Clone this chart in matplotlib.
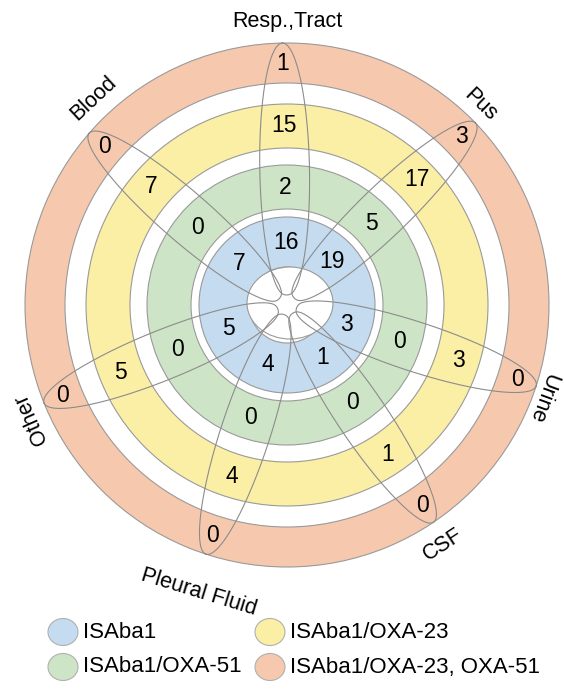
import numpy as np
import matplotlib.pyplot as plt
from matplotlib.patches import Wedge, Ellipse

plt.rcParams["font.family"] = ["Liberation Sans", "DejaVu Sans"]

# data
sources = ["Resp.,Tract", "Pus", "Urine", "CSF", "Pleural Fluid", "Other", "Blood"]
groups = ["ISAba1", "ISAba1/OXA-51", "ISAba1/OXA-23", "ISAba1/OXA-23, OXA-51"]
isaba1 = [16, 19, 3, 1, 4, 5, 7]
isaba1_oxa51 = [2, 5, 0, 0, 0, 0, 0]
isaba1_oxa23 = [15, 17, 3, 1, 4, 5, 7]
isaba1_both = [1, 3, 0, 0, 0, 0, 0]

# layout (pixel space)
cx, cy = 287, 305
petal_angles = [91, 44, -18, -56, -108, 202, 139]
label_angles = [90, 46, -20, -57, -107, 204, 133]
label_radius = [283, 278, 272, 286, 300, 280, 283]
rings = [(38, 88), (96, 140), (157, 201), (222, 262)]
ring_colors = ["#c4dbf0", "#cde5c6", "#fbeea5", "#f6c9ae"]
num_radius = [63, 118, 180, 242]
edge = "#9a9a9a"

fig = plt.figure(figsize=(5.64, 6.89), dpi=100)
ax = fig.add_axes([0, 0, 1, 1])
ax.set_xlim(0, 564)
ax.set_ylim(689, 0)
ax.axis("off")

for (r0, r1), col in zip(rings, ring_colors):
    ax.add_patch(Wedge((cx, cy), r1, 0, 360, width=r1 - r0, facecolor=col,
                       edgecolor=edge, lw=0.8))
ax.add_patch(Ellipse((cx + 3, cy - 2), 86, 72, facecolor="white", edgecolor=edge, lw=0.8))


def pt(r, ang):
    a = np.radians(ang)
    return cx + r * np.cos(a), cy - r * np.sin(a)


# petals: ellipse in (radius, arc offset) space
r_in, r_out, half_w = 10, 262, 25
phi = np.linspace(0, 2 * np.pi, 400)
rr = (r_in + r_out) / 2 + (r_out - r_in) / 2 * np.cos(phi)
vv = half_w * np.sin(phi)
for ang in petal_angles:
    a = np.radians(ang) + vv / rr
    ax.plot(cx + rr * np.cos(a), cy - rr * np.sin(a), color="#8c8c8c", lw=0.8)

for ring_vals, r in zip([isaba1, isaba1_oxa51, isaba1_oxa23, isaba1_both], num_radius):
    for v, ang in zip(ring_vals, petal_angles):
        x, y = pt(r, ang)
        ax.text(x, y, str(v), ha="center", va="center", fontsize=16.5)

for name, ang, r in zip(sources, label_angles, label_radius):
    x, y = pt(r, ang)
    rot = ang + 90 if -150 < ang < -30 else ang - 90
    ax.text(x, y, name, ha="center", va="center", rotation=rot,
            rotation_mode="anchor", fontsize=15.5)

# legend
leg_pos = [(63, 632), (63, 667), (270, 632), (270, 667)]
for (x, y), col, name in zip(leg_pos, ring_colors, groups):
    ax.add_patch(Ellipse((x, y), 30, 27, facecolor=col, edgecolor="#b0b0b0", lw=0.8))
    ax.text(x + 20, y, name, ha="left", va="center", fontsize=16)

fig.savefig("out.png", dpi=100)
